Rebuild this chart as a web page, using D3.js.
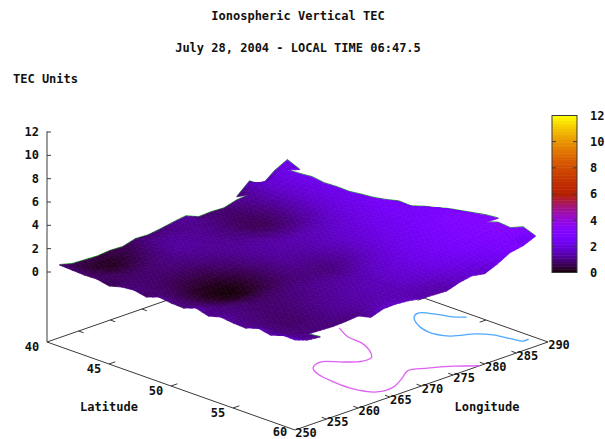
<!DOCTYPE html>
<html><head><meta charset="utf-8">
<script src="https://cdnjs.cloudflare.com/ajax/libs/d3/7.8.5/d3.min.js"></script>
<style>
html,body{margin:0;padding:0;background:#fff}
text{font-family:"DejaVu Sans Mono",monospace;font-weight:bold;font-size:12px;fill:#111}
</style></head><body>
<svg id="c" width="605" height="439"></svg>
<script>
const titleLines = ["Ionospheric Vertical TEC", "July 28, 2004 - LOCAL TIME 06:47.5"];
const zLabel = "TEC Units", latLabel = "Latitude", lonLabel = "Longitude";
const latTicks = [40,45,50,55,60];
const lonTicks = [250,255,260,265,270,275,280,285,290];
const zTicks = [0,2,4,6,8,10,12];
const lons = [250,252,254,256,258,260,262,264,266,268,270,272,274,276,278,280,282,284,286,288,290];
const lats = [40,41,42,43,44,45,46,47,48,49,50,51,52,53,54,55,56,57,58,59,60];
const n = null;
const tec = [
/*40*/[n,n,n,n,n,n,n,n,n,n,n,n,n,n,n,.7,1.65,.95,1.8,2.35,n],
/*41*/[.89,.6,.55,.5,.6,.55,.85,.8,.95,1.15,1.3,.85,.9,.85,1.15,1.25,1.7,2.0,2.25,1.9,n],
/*42*/[.84,.5,.3,.2,.4,.7,1.0,1.1,1.1,1.1,1.1,1.0,.85,.8,1.0,1.3,1.7,2.0,2.3,n,n],
/*43*/[.78,.6,.4,.35,.6,.85,1.15,1.25,1.2,1.15,1.05,.9,.75,.7,.9,1.25,1.65,2.0,2.4,n,n],
/*44*/[.82,.7,.6,.65,.8,1.0,1.25,1.3,1.2,1.15,1.0,.85,.7,.65,.85,1.25,1.7,2.05,2.25,n,n],
/*45*/[.6,.8,.8,.85,.95,1.05,1.2,1.25,1.2,1.15,1.05,.95,.8,.75,.95,1.35,1.75,2.1,2.3,n,n],
/*46*/[.89,.85,.85,.85,.9,.95,1.05,1.15,1.2,1.2,1.15,1.05,1.0,1.0,1.15,1.45,1.85,2.15,2.27,n,n],
/*47*/[1.0,.85,.8,.7,.65,.7,.85,1.0,1.15,1.25,1.3,1.25,1.2,1.25,1.4,1.65,1.95,2.2,2.4,n,n],
/*48*/[.78,.85,.7,.5,.4,.4,.6,.85,1.1,1.25,1.35,1.4,1.45,1.5,1.6,1.8,2.05,2.3,2.5,n,n],
/*49*/[1.16,.8,.55,.3,.15,.15,.35,.7,1.0,1.25,1.35,1.4,1.5,1.6,1.75,1.95,2.15,2.4,2.7,2.2,n],
/*50*/[1.02,.8,.5,.25,.1,.05,.3,.65,.95,1.2,1.25,1.35,1.5,1.7,1.85,2.05,2.25,2.5,2.75,2.15,n],
/*51*/[.97,.85,.6,.4,.25,.25,.45,.7,.95,1.1,1.1,1.2,1.45,1.7,1.95,2.15,2.35,2.55,2.6,2.5,2.0],
/*52*/[1.35,1.0,.8,.65,.55,.6,.7,.85,.95,1.0,.95,1.1,1.4,1.75,2.0,2.2,2.4,2.55,2.65,2.75,2.3],
/*53*/[1.04,1.05,.95,.85,.8,.8,.9,1.0,1.05,1.05,1.0,1.2,1.5,1.8,2.1,2.3,2.5,2.65,2.8,2.9,2.5],
/*54*/[1.33,1.05,.95,.85,.85,.9,1.0,1.1,1.2,1.2,1.25,1.45,1.7,1.95,2.2,2.4,2.6,2.8,2.95,3.0,2.7],
/*55*/[1.2,1.0,.9,.85,.85,.95,1.05,1.15,1.25,1.35,1.45,1.65,1.85,2.05,2.3,2.5,2.7,2.9,3.0,3.05,2.9],
/*56*/[1.14,1.0,.85,.8,.85,1.0,1.15,1.25,1.35,1.45,1.55,1.75,1.95,2.15,2.35,2.55,2.75,2.95,3.0,3.05,3.0],
/*57*/[1.52,1.0,.85,.8,.9,1.05,1.2,1.3,1.4,1.5,1.6,1.8,1.95,2.15,2.35,2.55,2.75,2.9,3.05,3.4,n],
/*58*/[1.3,1.0,.9,.9,1.0,1.1,1.2,1.3,1.4,1.5,1.55,1.7,1.85,2.05,2.25,2.45,2.65,2.8,3.0,3.3,3.0],
/*59*/[1.67,1.1,1.0,.95,.9,.95,1.05,1.4,1.5,1.5,1.45,1.45,1.5,1.75,1.95,2.15,2.4,2.65,2.9,2.15,2.6],
/*60*/[1.62,1.25,1.13,n,n,n,1.3,1.67,1.7,1.6,1.4,1.35,1.3,1.65,1.85,1.65,2.1,2.7,2.9,n,n]
];
const coastLon = [276.5,275.2,274.9,273.9,272.5,270.9,269.1,267.3,265.4,264.4,263.9,263.9,265.1,267.5,270.3,272.3,274.5,277,279.2];
const coastLat = [50.05,51.4,52.7,53.8,54.7,54.8,54.1,53.2,53.6,54.5,56,57.6,58.9,59,58.3,57.7,58.2,59,60];
const lakeLon = [289.1,288,287.3,286.1,284.9,283.4,282.7,283.5,286.1,287.2,287.8,288.2,289.1];
const lakeLat = [53.9,53.3,52.3,51.5,51.8,52.9,54.1,55.4,56.2,57,58.2,58.9,58.9];

const svg = d3.select("#c");
const latX = d3.scaleLinear().domain([40,60]).range([0,248]);
const latY = d3.scaleLinear().domain([40,60]).range([0,88]);
const lonX = d3.scaleLinear().domain([250,290]).range([47,300]);
const lonY = d3.scaleLinear().domain([250,290]).range([342,254]);
const zS = d3.scaleLinear().domain([0,12]).range([271.5,131.5]);
const zLift = v => zS(v) - zS(0);
const px = (la,lo) => lonX(lo) + latX(la);
const py = (la,lo) => lonY(lo) + latY(la);
const sx = px, sy = (la,lo,v) => py(la,lo) + (271 - 342) + zLift(v);

const palette = t => {
  const r = Math.sqrt(t), g = t*t*t, b = Math.max(0, Math.sin(2*Math.PI*t));
  return d3.rgb(255*r, 255*g, 255*b).formatHex();
};
const color = d3.scaleSequential(palette).domain([0,12]);
const axisInk = "#3a3a3a";
const line = d3.line();
const lineG = svg.append("g").attr("fill","none").attr("stroke",axisInk).attr("stroke-width",1);
const seg = (a,b) => lineG.append("path").attr("d", line([a,b]));

seg([px(40,250),py(40,250)],[px(60,250),py(60,250)]);
seg([px(60,250),py(60,250)],[px(60,290),py(60,290)]);
seg([px(60,290),py(60,290)],[px(40,290),py(40,290)]);
seg([px(40,290),py(40,290)],[px(40,250),py(40,250)]);
seg([47,131.5],[47,342]);
latTicks.slice(1,-1).forEach(la=>{
  seg([px(la,250),py(la,250)],[px(la,251),py(la,251)]);
  seg([px(la,290),py(la,290)],[px(la,289),py(la,289)]);
});
lonTicks.slice(1,-1).forEach(lo=>{
  seg([px(60,lo),py(60,lo)],[px(59.6,lo),py(59.6,lo)]);
  seg([px(40,lo),py(40,lo)],[px(40.4,lo),py(40.4,lo)]);
});
const toPts = (las,los) => las.map((la,i)=>[px(la,los[i]),py(la,los[i])]);
const smooth = d3.line().curve(d3.curveCatmullRom);
svg.append("path").attr("d",smooth(toPts(coastLat,coastLon))).attr("fill","none").attr("stroke","#e060f5").attr("stroke-width",1.3);
svg.append("path").attr("d",smooth(toPts(lakeLat,lakeLon))).attr("fill","none").attr("stroke","#50a8ff").attr("stroke-width",1.3);

// surface: each data cell is shaded in small facets, like pm3d's interpolate option
const SUBI = 2, SUBJ = 3;
const cells = [];
const at = (i,j,u,v) => (tec[i][j]*(1-u)*(1-v)+tec[i][j+1]*(1-u)*v+tec[i+1][j]*u*(1-v)+tec[i+1][j+1]*u*v);
const P = (i,j,u,v) => {
  const la = lats[i]+(lats[i+1]-lats[i])*u, lo = lons[j]+(lons[j+1]-lons[j])*v;
  return [sx(la,lo), sy(la,lo,at(i,j,u,v))];
};
const facets = [];
for (let i=0;i<lats.length-1;i++) for (let j=0;j<lons.length-1;j++){
  if ([tec[i][j],tec[i][j+1],tec[i+1][j],tec[i+1][j+1]].includes(null)) continue;
  cells.push({i,j});
  for (let a=0;a<SUBI;a++) for (let b=0;b<SUBJ;b++){
    const u0=a/SUBI,u1=(a+1)/SUBI,v0=b/SUBJ,v1=(b+1)/SUBJ;
    facets.push({
      pts:[P(i,j,u0,v0),P(i,j,u0,v1),P(i,j,u1,v1),P(i,j,u1,v0)],
      v:at(i,j,(u0+u1)/2,(v0+v1)/2),
      depth:py(lats[i]+u0,lons[j]+2*v0)
    });
  }
}
const has = (i,j)=>cells.some(q=>q.i===i&&q.j===j);
const fringe = svg.append("g").attr("stroke","#12b012").attr("stroke-width",0.9).attr("fill","none");
cells.forEach(q=>{
  const {i,j}=q;
  if(!has(i-1,j)) fringe.append("path").attr("d",line([P(i,j,0,0),P(i,j,0,1)])).attr("transform","translate(0,-0.5)");
  if(!has(i,j+1)) fringe.append("path").attr("d",line([P(i,j,0,1),P(i,j,1,1)])).attr("transform","translate(0,-0.5)");
});
svg.append("g").selectAll("path").data(facets.sort((a,b)=>d3.ascending(a.depth,b.depth))).join("path")
  .attr("d",d=>line(d.pts)+"Z").attr("fill",d=>color(d.v)).attr("stroke",d=>color(d.v)).attr("stroke-width",0.7);

const zAxis = d3.axisLeft(zS).tickValues(zTicks).tickSize(-4).tickPadding(8);
const zg = svg.append("g").attr("transform","translate(47,0)").call(zAxis);
zg.select(".domain").remove();
zg.selectAll("line").attr("stroke",axisInk);
zg.attr("font-family",null).attr("font-size",null);

svg.append("g").selectAll("text").data(latTicks).join("text")
  .attr("x",d=>px(d,250)-15).attr("y",d=>Math.min(py(d,250)+8.5,436)).attr("text-anchor","middle").text(d=>d);
svg.append("g").selectAll("text").data(lonTicks).join("text")
  .attr("x",d=>px(60,d)+11).attr("y",d=>py(60,d)+7).attr("text-anchor","middle").text(d=>d);
svg.append("text").attr("x",109).attr("y",411).attr("text-anchor","middle").text(latLabel);
svg.append("text").attr("x",487).attr("y",411).attr("text-anchor","middle").text(lonLabel);

svg.append("text").attr("x",298).attr("y",20).attr("text-anchor","middle").text(titleLines[0]);
svg.append("text").attr("x",298).attr("y",52).attr("text-anchor","middle").text(titleLines[1]);
svg.append("text").attr("x",13).attr("y",83).text(zLabel);

const cb = d3.scaleLinear().domain([0,12]).range([272.5,115.5]);
const bands = d3.range(0,12,0.12);
svg.append("g").selectAll("rect").data(bands).join("rect")
  .attr("x",552).attr("width",25).attr("y",d=>cb(d+0.12)).attr("height",d=>cb(d)-cb(d+0.12)+0.5)
  .attr("fill",d=>color(d+0.06));
svg.append("rect").attr("x",552).attr("y",115.5).attr("width",25).attr("height",157).attr("fill","none").attr("stroke",axisInk);
const cbAxis = d3.axisRight(cb).tickValues(zTicks).tickSize(0).tickPadding(13);
const cg = svg.append("g").attr("transform","translate(577,0)").call(cbAxis);
cg.select(".domain").remove();
cg.attr("font-family",null).attr("font-size",null);
zTicks.slice(1,-1).forEach(t=>{
  svg.append("path").attr("d",line([[552,cb(t)],[556,cb(t)]])).attr("stroke",axisInk);
  svg.append("path").attr("d",line([[573,cb(t)],[577,cb(t)]])).attr("stroke",axisInk);
});
</script>
</body></html>
